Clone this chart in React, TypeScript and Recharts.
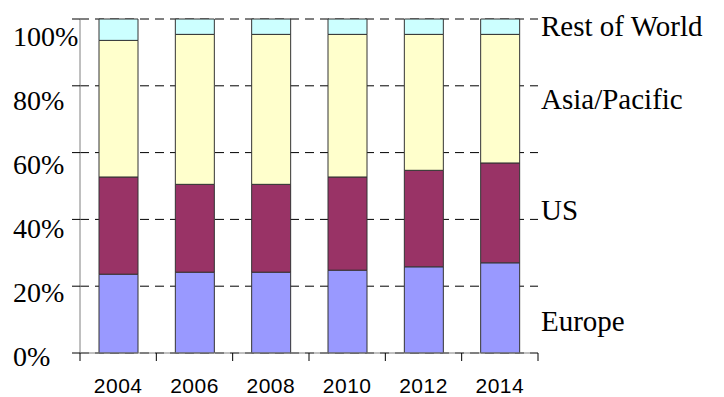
import { BarChart, Bar, XAxis, YAxis, CartesianGrid, Legend } from 'recharts';

const years = ['2004', '2006', '2008', '2010', '2012', '2014'];
const europe = [23.6, 24.2, 24.2, 24.8, 25.8, 27.0];
const us = [29.1, 26.3, 26.3, 27.9, 28.9, 29.9];
const asiaPacific = [40.9, 44.9, 44.9, 42.7, 40.7, 38.5];
const restOfWorld = [6.4, 4.6, 4.6, 4.6, 4.6, 4.6];
const yTicks = [0, 20, 40, 60, 80, 100];

const data = years.map((year, i) => ({
  year,
  Europe: europe[i],
  US: us[i],
  'Asia/Pacific': asiaPacific[i],
  'Rest of World': restOfWorld[i],
}));

const W = 724;
const H = 397;
const M = { top: 19, right: 186, bottom: 0, left: 0 };
const HALF_BAND = (W - 80 - M.right) / years.length / 2;

// legend label tops, Excel puts them next to the last column
const legendTops: Record<string, number> = {
  'Rest of World': 12,
  'Asia/Pacific': 85,
  US: 196,
  Europe: 307,
};

const serif = '"Liberation Serif", "Times New Roman", serif';
const sans = '"Liberation Sans", Arial, sans-serif';

function YTick({ x, y, payload }: any) {
  const v = payload.value as number;
  return (
    <text x={13} y={y + 13 + v * 0.14} fontFamily={serif} fontSize={28} fill="#000" textAnchor="start">
      {v}%
    </text>
  );
}

function XTick({ x, y, payload, index }: any) {
  return (
    <g>
      <line x1={x - HALF_BAND} x2={x - HALF_BAND} y1={y} y2={y + 8} stroke="#000" />
      {index === years.length - 1 && (
        <line x1={x + HALF_BAND} x2={x + HALF_BAND} y1={y} y2={y + 8} stroke="#000" />
      )}
      <text x={x} y={y + 40} fontFamily={sans} fontSize={21} letterSpacing={0.5} fill="#000" textAnchor="middle">
        {payload.value}
      </text>
    </g>
  );
}

function SideLegend({ payload }: any) {
  return (
    <div style={{ position: 'relative', width: 183, height: H }}>
      {(payload || []).map((p: any) => (
        <div
          key={p.value}
          style={{
            position: 'absolute',
            left: 0,
            top: legendTops[p.value],
            fontFamily: serif,
            fontSize: 29,
            lineHeight: '29px',
            whiteSpace: 'nowrap',
            color: '#000',
          }}
        >
          {p.value}
        </div>
      ))}
    </div>
  );
}

export default function App() {
  return (
    <div style={{ position: 'absolute', left: 0, top: 0, background: '#fff' }}>
      <BarChart width={W} height={H} data={data} margin={M} barSize={39}>
        <CartesianGrid horizontal vertical={false} stroke="#000" strokeDasharray="9 6" />
        <XAxis
          dataKey="year"
          height={44}
          tickSize={0}
          tickMargin={0}
          axisLine={{ stroke: '#808080' }}
          tickLine={false}
          tick={<XTick />}
          interval={0}
        />
        <YAxis
          width={80}
          domain={[0, 100]}
          ticks={yTicks}
          tickSize={8}
          axisLine={{ stroke: '#808080' }}
          tickLine={{ stroke: '#000' }}
          tick={<YTick />}
          interval={0}
        />
        <Legend
          layout="horizontal"
          verticalAlign="middle"
          content={<SideLegend />}
          wrapperStyle={{ position: 'absolute', left: 541, top: 0, width: 183, height: H }}
        />
        <Bar dataKey="Europe" stackId="a" fill="#9999FF" stroke="#333" strokeWidth={1} isAnimationActive={false} />
        <Bar dataKey="US" stackId="a" fill="#993366" stroke="#333" strokeWidth={1} isAnimationActive={false} />
        <Bar dataKey="Asia/Pacific" stackId="a" fill="#FFFFCC" stroke="#333" strokeWidth={1} isAnimationActive={false} />
        <Bar dataKey="Rest of World" stackId="a" fill="#CCFFFF" stroke="#333" strokeWidth={1} isAnimationActive={false} />
      </BarChart>
    </div>
  );
}
